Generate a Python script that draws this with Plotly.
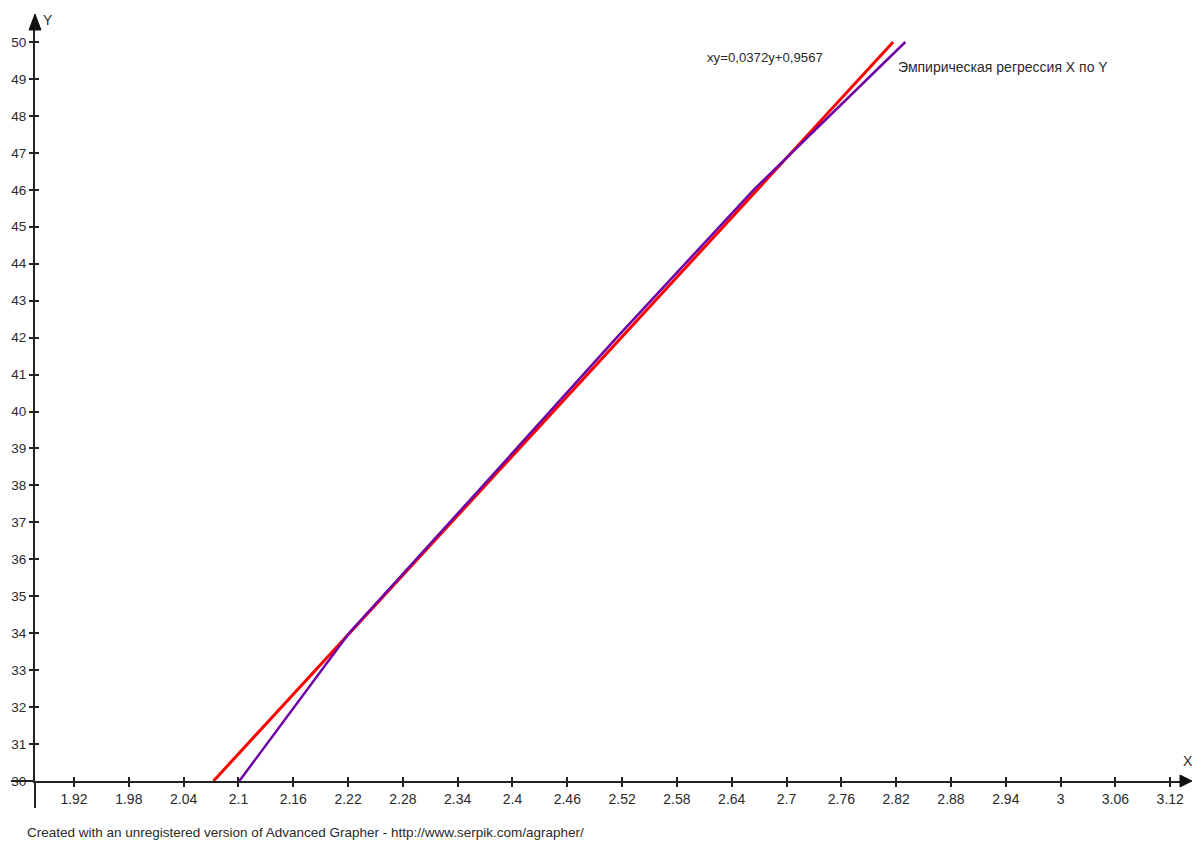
import plotly.graph_objects as go

# Regression line of X on Y: x = A*y + B
coef_a = 0.0372
coef_b = 0.9567
fit_y = [30, 50]
fit_x = [coef_a * y + coef_b for y in fit_y]

# Empirical regression of X on Y (conditional means)
emp_y = [30, 34, 38, 42, 46, 50]
emp_x = [2.101, 2.221, 2.368, 2.514, 2.664, 2.830]

x_ticks = [1.92, 1.98, 2.04, 2.10, 2.16, 2.22, 2.28, 2.34, 2.40, 2.46, 2.52,
           2.58, 2.64, 2.70, 2.76, 2.82, 2.88, 2.94, 3.00, 3.06, 3.12]
x_tick_text = ["1.92", "1.98", "2.04", "2.1", "2.16", "2.22", "2.28", "2.34",
               "2.4", "2.46", "2.52", "2.58", "2.64", "2.7", "2.76", "2.82",
               "2.88", "2.94", "3", "3.06", "3.12"]
y_ticks = list(range(30, 51))

X_RANGE = [1.8773, 3.1307]
Y_RANGE = [30, 50.325]

FONT = "Liberation Sans Narrow, Arial Narrow, Liberation Sans, sans-serif"
TXT = "#2a2a2a"
AX = "#222222"

fig = go.Figure()

fig.add_trace(go.Scatter(
    x=fit_x, y=fit_y, mode="lines",
    line=dict(color="#ff0000", width=3),
    hoverinfo="skip", showlegend=False,
))
fig.add_trace(go.Scatter(
    x=emp_x, y=emp_y, mode="lines",
    line=dict(color="#6e00a8", width=2.5),
    hoverinfo="skip", showlegend=False,
))
# invisible trace on overlaid axes so the inner tick marks are drawn
fig.add_trace(go.Scatter(
    x=[X_RANGE[0]], y=[Y_RANGE[0]], xaxis="x2", yaxis="y2",
    mode="markers", marker=dict(opacity=0), hoverinfo="skip", showlegend=False,
))

common_tick = dict(ticklen=4, tickwidth=1.5, tickcolor=AX, showgrid=False,
                   zeroline=False)

fig.update_layout(
    width=1196, height=845,
    margin=dict(l=35, r=16, t=30, b=64),
    paper_bgcolor="white", plot_bgcolor="white",
    font=dict(family=FONT, size=13, color=TXT),
    xaxis=dict(range=X_RANGE, tickvals=x_ticks, ticktext=x_tick_text,
               ticks="outside", showline=True, linecolor=AX, linewidth=2,
               tickfont=dict(family=FONT, size=14, color=TXT),
               **common_tick),
    yaxis=dict(range=Y_RANGE, tickvals=y_ticks, ticks="outside",
               showline=True, linecolor=AX, linewidth=2,
               tickfont=dict(family=FONT, size=13.5, color=TXT),
               **common_tick),
    xaxis2=dict(range=X_RANGE, overlaying="x", tickvals=x_ticks,
                ticks="inside", showticklabels=False, showline=False,
                side="bottom", **common_tick),
    yaxis2=dict(range=Y_RANGE, overlaying="y", tickvals=y_ticks,
                ticks="inside", showticklabels=False, showline=False,
                side="left", **common_tick),
)

# paper-coordinate helpers (plot area: 1145 x 751 px)
pw, ph = 1196 - 35 - 16, 845 - 30 - 64
def px(dx):
    return dx / pw
def py(dy):
    return dy / ph

shapes = [
    # axis extensions past the origin
    dict(type="line", xref="paper", yref="paper", x0=px(-24), y0=0, x1=0, y1=0,
         line=dict(color=AX, width=2)),
    dict(type="line", xref="paper", yref="paper", x0=0, y0=py(-27), x1=0, y1=0,
         line=dict(color=AX, width=2)),
    # arrowheads
    dict(type="path", xref="paper", yref="paper",
         path=f"M {1:.5f} {py(-6):.5f} L {1 + px(12):.5f} 0 L {1:.5f} {py(6):.5f} Z",
         fillcolor="#111111", line=dict(color="#111111", width=1)),
    dict(type="path", xref="paper", yref="paper",
         path=f"M {px(-6):.5f} {1:.5f} L 0 {1 + py(16):.5f} L {px(6):.5f} {1:.5f} Z",
         fillcolor="#111111", line=dict(color="#111111", width=1)),
]
fig.update_layout(shapes=shapes)

annotations = [
    dict(text="Y", xref="paper", yref="paper", x=px(6), y=1 + py(10),
         xanchor="left", yanchor="middle", showarrow=False,
         font=dict(family=FONT, size=14, color=TXT)),
    dict(text="X", xref="paper", yref="paper", x=1 + px(8), y=py(20),
         xanchor="center", yanchor="middle", showarrow=False,
         font=dict(family=FONT, size=14, color=TXT)),
    dict(text="xy=0,0372y+0,9567", xref="paper", yref="paper",
         x=px(705 - 35), y=1 - py(57 - 30), xanchor="left", yanchor="middle",
         showarrow=False, font=dict(family=FONT, size=13.2, color=TXT)),
    dict(text="Эмпирическая регрессия X по Y", xref="paper", yref="paper",
         x=px(896 - 35), y=1 - py(67 - 30), xanchor="left", yanchor="middle",
         showarrow=False, font=dict(family=FONT, size=14, color=TXT)),
    dict(text="Created with an unregistered version of Advanced Grapher - http://www.serpik.com/agrapher/",
         xref="paper", yref="paper", x=px(25 - 35), y=-py(833 - 781),
         xanchor="left", yanchor="middle", showarrow=False,
         font=dict(family=FONT, size=13.5, color=TXT)),
]
fig.update_layout(annotations=annotations)

fig.write_html("out.html")
